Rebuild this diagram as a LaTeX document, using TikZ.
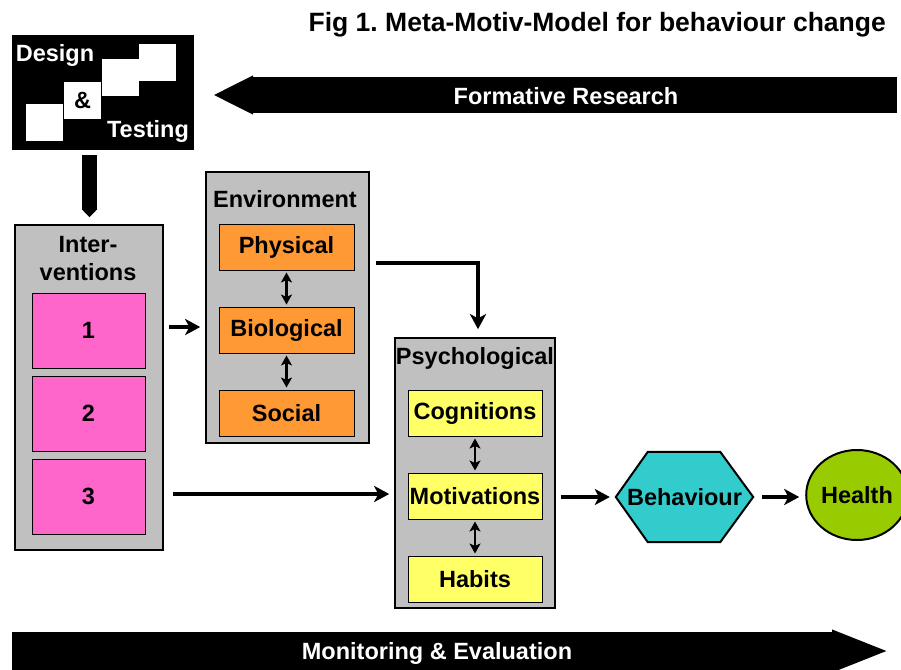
\documentclass[tikz,border=0pt]{standalone}
\usepackage{fontspec}
\setmainfont{Liberation Sans}
\usepackage{tikz}
\usetikzlibrary{calc, arrows.meta, shapes.geometric, backgrounds}

\definecolor{boxgray}{HTML}{C0C0C0}
\definecolor{intpink}{HTML}{FF66CC}
\definecolor{envorange}{HTML}{FF9933}
\definecolor{psyyellow}{HTML}{FFFF66}
\definecolor{behcyan}{HTML}{33CCCC}
\definecolor{healthgreen}{HTML}{99CC00}

\frenchspacing
\begin{document}
\begin{tikzpicture}[x=1pt, y=-1pt,
	every node/.style={font=\fontsize{23.5}{28}\selectfont\bfseries, inner sep=0pt},
	group/.style={draw, line width=1.6pt, fill=boxgray},
	item/.style={draw, line width=1pt, minimum width=#1, minimum height=46pt},
	conn/.style={line width=4.5pt, -{Stealth[length=15pt, width=16pt, inset=4pt]}},
	link/.style={line width=2.2pt, {Stealth[length=10pt, width=11pt, inset=2.5pt]}-{Stealth[length=10pt, width=11pt, inset=2.5pt]}, shorten >=2pt, shorten <=2pt},
	banner/.style={line width=#1},
	]
	\clip (0,0) rectangle (901,669);
	
	\node[anchor=east, font=\fontsize{26.5}{30}\selectfont\bfseries] (ttl) at (886,25) {Fig 1. Meta-Motiv-Model for behaviour change};
	
	\node[fill=black, minimum width=182pt, minimum height=115pt] (dt) at (103,92.5) {};
	\node[fill=white, minimum size=37pt] (sq1) at (44.5,122.5) {};
	\node[fill=white, minimum size=37pt] (sq2) at (82.5,100) {\&};
	\node[fill=white, minimum size=37pt] (sq3) at (120.5,77.5) {};
	\node[fill=white, minimum size=37pt] (sq4) at (157.5,62.5) {};
	\node[text=white] (dsg) at (55,55) {Design};
	\node[text=white] (tst) at (148,131) {Testing};
	
	\draw[banner=36pt, -{Triangle[length=40pt, width=36pt]}] (897,95) -- (213,95);
	\node[text=white] (fr) at (566,96) {Formative Research};
	\draw[banner=38pt, -{Triangle[length=58pt, width=38pt]}] (12,651) -- (890,651);
	\node[text=white] (me) at (437,653) {Monitoring \& Evaluation};
	
	\node[group, minimum width=148pt, minimum height=325pt] (int) at (89,387.5) {};
	\node[align=center] (intlab) at (88,259) {Inter-\\ventions};
	\foreach \n/\y in {1/330.5, 2/413.5, 3/496.5}
		\node[draw, line width=1pt, fill=intpink, minimum width=113pt, minimum height=75pt] (p\n) at (88.5,\y) {\n};
	
	\node[group, minimum width=163pt, minimum height=271pt] (env) at (287.5,307.5) {};
	\node (envlab) at (285,199) {Environment};
	\node[item=135pt, fill=envorange] (phy) at (286.5,247) {Physical};
	\node[item=135pt, fill=envorange] (bio) at (286.5,330) {Biological};
	\node[item=135pt, fill=envorange] (soc) at (286.5,413) {Social};
	\draw[link] (phy) -- (bio);
	\draw[link] (bio) -- (soc);
	
	\node[group, minimum width=160pt, minimum height=270pt] (psy) at (475,473) {};
	\node (psylab) at (475,358) {Psychological};
	\node[item=134pt, fill=psyyellow] (cog) at (475,413) {Cognitions};
	\node[item=134pt, fill=psyyellow] (mot) at (475,496) {Motivations};
	\node[item=134pt, fill=psyyellow] (hab) at (475,579) {Habits};
	\draw[link] (cog) -- (mot);
	\draw[link] (mot) -- (hab);
	
	\node[minimum width=137pt, minimum height=90pt] (beh) at (684.5,497) {Behaviour};
	\begin{scope}[on background layer]
		\draw[line width=2pt, fill=behcyan] (beh.west) -- ($(beh.north west)+(32,0)$) -- ($(beh.north east)+(-33,0)$) -- (beh.east) -- ($(beh.south east)+(-33,0)$) -- ($(beh.south west)+(32,0)$) -- cycle;
	\end{scope}
	\node[ellipse, draw, line width=2pt, fill=healthgreen, minimum width=100pt, minimum height=90pt] (hea) at (857,495) {Health};
	
	\draw[line width=15pt, -{Triangle[length=8pt, width=15pt]}] ($(dt.south)+(-13.5,5)$) -- ($(int.north)+(0.5,-7)$);
	\draw[conn] ($(int.east |- bio)+(5,-3)$) -- ($(env.west |- bio)+(-5,-3)$);
	\draw[conn] ($(env.east |- phy)+(6,16)$) -| ($(psy.north)+(3,-8)$);
	\draw[conn] ($(int.east |- mot)+(9,-2)$) -- ($(psy.west |- mot)+(-5,-2)$);
	\draw[conn] ($(psy.east |- beh)+(5,0)$) -- ($(beh.west)+(-6,0)$);
	\draw[conn] ($(beh.east)+(9,0)$) -- ($(hea.west |- beh)+(-6,0)$);
\end{tikzpicture}
\end{document}
